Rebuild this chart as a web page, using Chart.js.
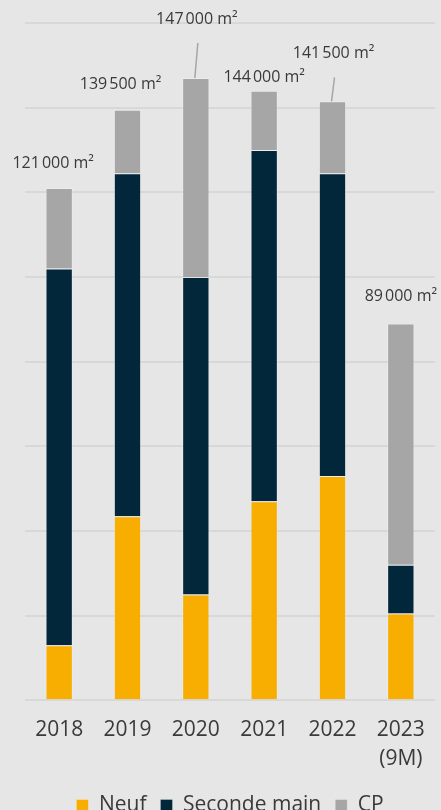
<!DOCTYPE html>
<html>
<head>
<meta charset="utf-8">
<script src="https://cdn.jsdelivr.net/npm/chart.js@4"></script>
<style>
    html, body { margin: 0; padding: 0; background: #e6e6e6; overflow: hidden; }
    .wrap { position: relative; width: 441px; height: 832px; }
</style>
</head>
<body>
<div class="wrap"><canvas id="chart"></canvas></div>
<script>
// Data
const years = ['2018', '2019', '2020', '2021', '2022', ['2023', '(9M)']];
const neuf = [13000, 43500, 25000, 47000, 53000, 20500];
const secondeMain = [89000, 81000, 75000, 83000, 71500, 11500];
const cp = [19000, 15000, 47000, 14000, 17000, 57000];

// label offsets from bar top (dx, dy) and whether a leader line is drawn
const labelPos = [
    { dx: -6, dy: -25, line: false },
    { dx: -7, dy: -25, line: false },
    { dx: 1, dy: -59, line: true },
    { dx: 0, dy: -13, line: false },
    { dx: 1, dy: -48, line: true },
    { dx: 0, dy: -27, line: false }
];

const textColor = '#3a3a3a';
const font = "'Open Sans', sans-serif";

const totalsPlugin = {
    id: 'totals',
    afterDatasetsDraw(chart) {
        const ctx = chart.ctx;
        const meta = chart.getDatasetMeta(2);
        ctx.save();
        ctx.font = '16px ' + font;
        ctx.fillStyle = textColor;
        ctx.textAlign = 'center';
        ctx.textBaseline = 'middle';
        meta.data.forEach((bar, i) => {
            const total = neuf[i] + secondeMain[i] + cp[i];
            const p = labelPos[i];
            const x = bar.x + p.dx;
            const y = bar.y + p.dy;
            if (p.line) {
                ctx.strokeStyle = '#a6a6a6';
                ctx.lineWidth = 1.5;
                ctx.beginPath();
                ctx.moveTo(bar.x - 1, bar.y);
                ctx.lineTo(x + 1, y + 24);
                ctx.stroke();
            }
            const txt = total.toLocaleString('fr-FR').replace(/\s/g, '\u202f') + ' m²';
            ctx.fillText(txt, x, y);
        });
        ctx.restore();
    }
};

const ctx = document.getElementById('chart').getContext('2d');
const chart = new Chart(ctx, {
    type: 'bar',
    data: {
        labels: years,
        datasets: [
            { label: 'Neuf', data: neuf, backgroundColor: '#f7ae00' },
            { label: 'Seconde main', data: secondeMain, backgroundColor: '#02263a' },
            { label: 'CP', data: cp, backgroundColor: '#a6a6a6' }
        ].map(d => Object.assign(d, {
            borderColor: 'rgba(255,255,255,0.25)',
            borderWidth: 1,
            borderSkipped: 'bottom',
            barPercentage: 0.4,
            categoryPercentage: 1
        }))
    },
    options: {
        responsive: true,
        maintainAspectRatio: false,
        animation: false,
        layout: { padding: { left: 25, right: 6, top: 23, bottom: 6 } },
        scales: {
            x: {
                stacked: true,
                grid: { display: false },
                border: { display: false },
                ticks: {
                    color: textColor,
                    font: { family: font, size: 21, lineHeight: 1.35 },
                    padding: 8,
                    maxRotation: 0
                }
            },
            y: {
                stacked: true,
                min: 0,
                max: 160000,
                ticks: { display: false, stepSize: 20000 },
                border: { display: false },
                grid: { color: '#d8d8d8', lineWidth: 2, drawTicks: false },
                afterFit: (scale) => { scale.width = 0; }
            }
        },
        plugins: {
            legend: {
                position: 'bottom',
                labels: {
                    color: textColor,
                    font: { family: font, size: 21 },
                    boxWidth: 12,
                    boxHeight: 12,
                    padding: 14
                }
            },
            tooltip: { enabled: false }
        }
    },
    plugins: [totalsPlugin]
});
</script>
</body>
</html>
